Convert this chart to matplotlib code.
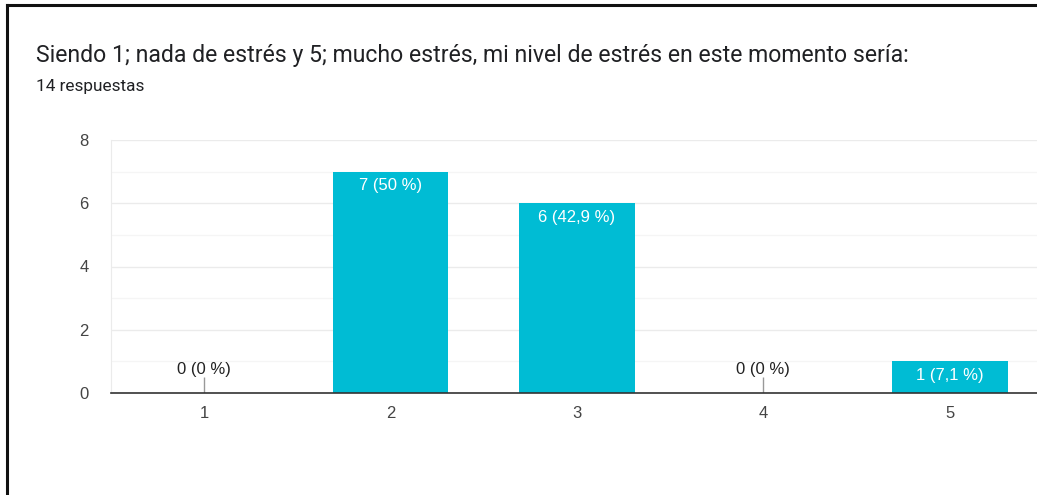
import matplotlib.pyplot as plt
from matplotlib.lines import Line2D

plt.rcParams['font.family'] = ['Roboto', 'DejaVu Sans']

# respuestas por nivel de estrés
niveles    = ['1', '2', '3', '4', '5']
respuestas = [0, 7, 6, 0, 1]
etiquetas  = ['0 (0 %)', '7 (50 %)', '6 (42,9 %)', '0 (0 %)', '1 (7,1 %)']

titulo    = 'Siendo 1; nada de estrés y 5; mucho estrés, mi nivel de estrés en este momento sería:'
subtitulo = '14 respuestas'

color_barra = '#00BCD4'
gris_texto  = '#444444'
fuente_ejes = ['Liberation Sans', 'DejaVu Sans']

fig = plt.figure(figsize=(10.37, 4.95), dpi=100)

# marco negro de la captura
fig.add_artist(Line2D([7 / 1037, 7 / 1037], [0, 1 - 5 / 495], color='#111111', lw=2.2))
fig.add_artist(Line2D([7 / 1037, 1], [1 - 5 / 495, 1 - 5 / 495], color='#111111', lw=2.2))

fig.text(36 / 1037, 1 - 62 / 495, titulo, fontsize=16.55, color='#202124', va='baseline')
fig.text(36 / 1037, 1 - 91 / 495, subtitulo, fontsize=12.4, color='#202124', va='baseline')

ax = fig.add_axes([111 / 1037, 1 - 393 / 495, 932 / 1037, 253 / 495])

x = range(len(niveles))
ax.bar(x, respuestas, width=0.62, color=color_barra, zorder=2)

for i, (v, txt) in enumerate(zip(respuestas, etiquetas)):
    if v > 0:
        ax.text(i, v - 0.2, txt, ha='center', va='top', color='white',
                fontsize=12, family=fuente_ejes, zorder=3)
    else:
        ax.vlines(i, 0, 0.5, color='#999999', lw=1, zorder=3)
        ax.text(i, 0.52, txt, ha='center', va='bottom', color='#222222',
                fontsize=12, family=fuente_ejes, zorder=3)

ax.set_xlim(-0.5, len(niveles) - 0.5)
ax.set_ylim(0, 8)
ax.set_xticks(list(x))
ax.set_xticklabels(niveles, family=fuente_ejes)
ax.set_yticks([0, 2, 4, 6, 8])
ax.set_yticklabels(['0', '2', '4', '6', '8'], family=fuente_ejes)
ax.set_yticks([1, 3, 5, 7], minor=True)

ax.grid(axis='y', which='major', color='#ebebeb', lw=1, zorder=0)
ax.grid(axis='y', which='minor', color='#f5f5f5', lw=1, zorder=0)

ax.tick_params(axis='both', which='both', length=0, labelsize=12, labelcolor=gris_texto)
ax.tick_params(axis='y', pad=16)
ax.tick_params(axis='x', pad=9)

for s in ['top', 'right']:
    ax.spines[s].set_visible(False)
ax.spines['left'].set_color('#ebebeb')
ax.spines['bottom'].set_color('#333333')
ax.spines['bottom'].set_linewidth(1.2)
ax.spines['bottom'].set_zorder(4)

fig.savefig('out.png', dpi=100, facecolor='white')
